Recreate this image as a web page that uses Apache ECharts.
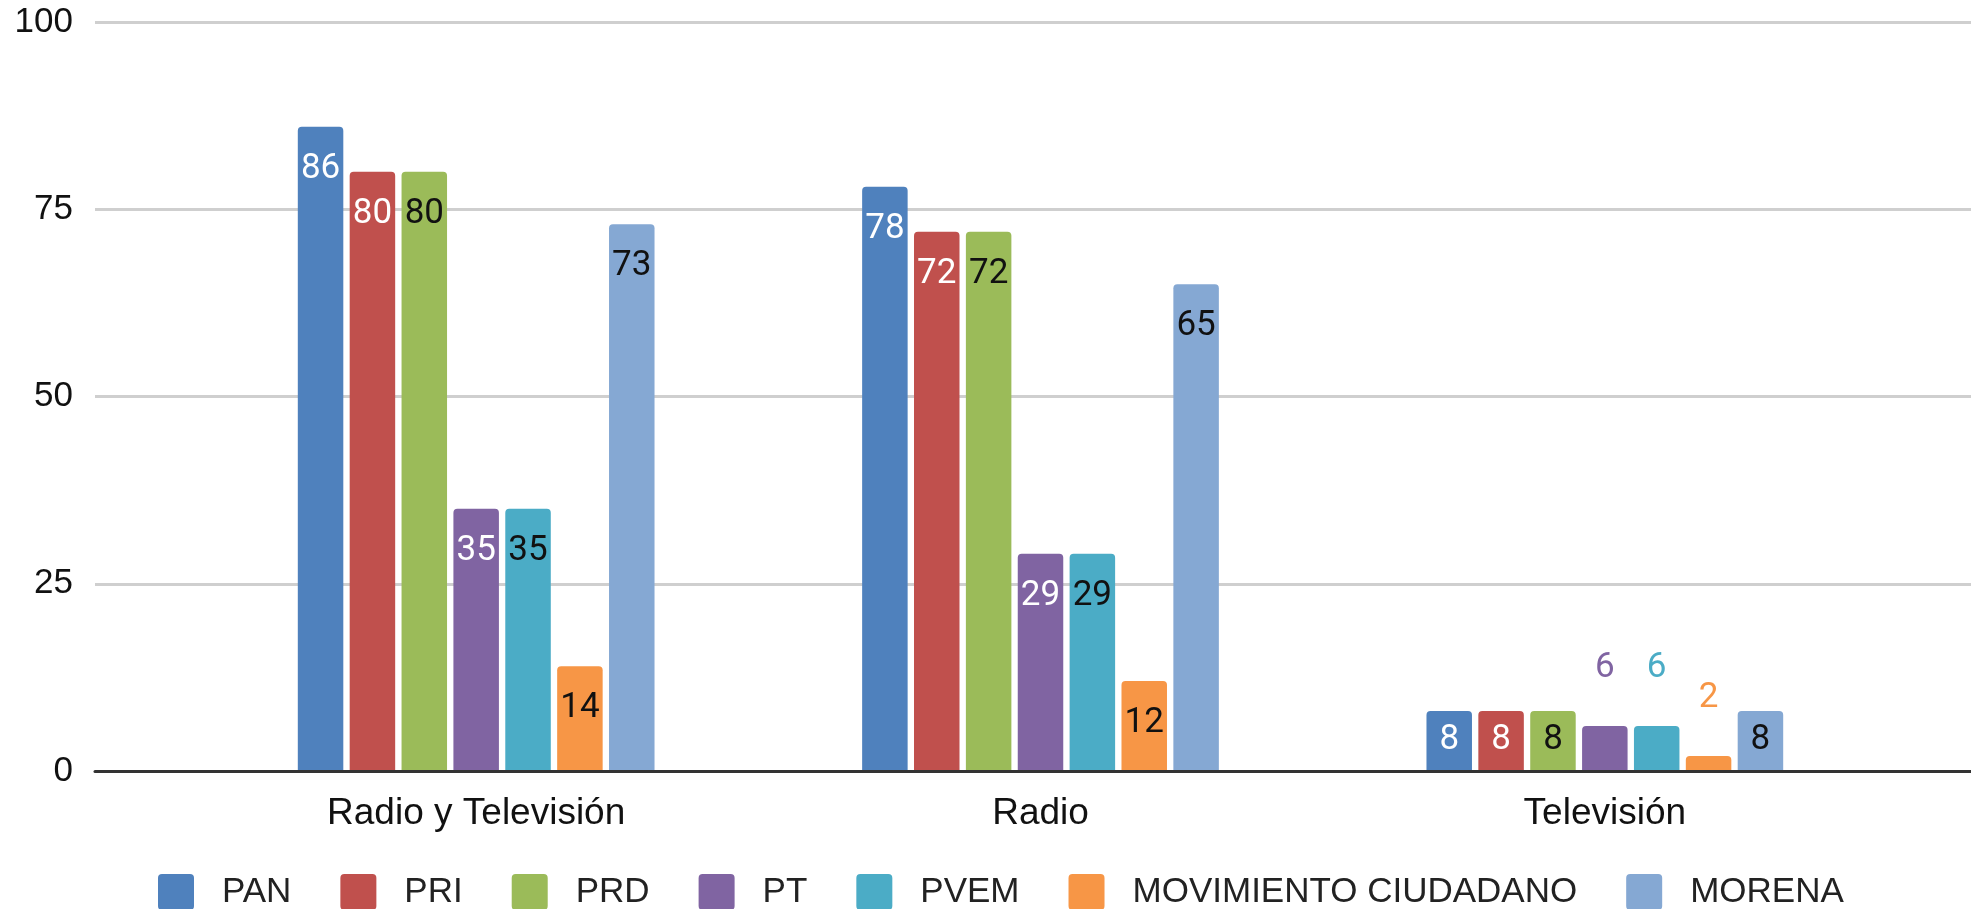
<!DOCTYPE html>
<html>
<head>
<meta charset="utf-8">
<script src="https://cdn.jsdelivr.net/npm/echarts@6/dist/echarts.min.js"></script>
<style>
html,body{margin:0;padding:0;background:#fff;}
#main{width:1971px;height:909px;}
</style>
</head>
<body>
<div id="main"></div>
<script>
var categories = ['Radio y Televisión', 'Radio', 'Televisión'];
var parties = ['PAN', 'PRI', 'PRD', 'PT', 'PVEM', 'MOVIMIENTO CIUDADANO', 'MORENA'];
var PAN = [86, 78, 8];
var PRI = [80, 72, 8];
var PRD = [80, 72, 8];
var PT = [35, 29, 6];
var PVEM = [35, 29, 6];
var MC = [14, 12, 2];
var MORENA = [73, 65, 8];
var yTicks = [0, 25, 50, 75, 100];

var values = [PAN, PRI, PRD, PT, PVEM, MC, MORENA];
var colors = ['#4f81bd', '#c0504d', '#9bbb59', '#8064a2', '#4bacc6', '#f79646', '#85a8d3'];
var labelColors = ['#fff', '#fff', '#111', '#fff', '#111', '#111', '#111'];

var axisFont = '"Liberation Sans", Arial, sans-serif';
var legendIcon = 'path://M4,0 h28 a4,4 0 0 1 4,4 v28 a4,4 0 0 1 -4,4 h-28 a4,4 0 0 1 -4,-4 v-28 a4,4 0 0 1 4,-4 z';

var series = [];
$each = function(arr, fn){ for(var i=0;i<arr.length;i++){ fn(i, arr[i]); } };
$each(parties, function(i, name){
	var data = [];
	$each(values[i], function(j, v){
		var label;
		if(v >= 10){
			label = {show:true, position:'insideTop', distance:25, color:labelColors[i]};
		}else if(v >= 8){
			label = {show:true, position:'insideBottom', distance:13, color:labelColors[i]};
		}else{
			label = {show:true, position:'top', distance:40, color:colors[i]};
		}
		data.push({value:v, label:label});
	});
	series.push({
		name:name,
		type:'bar',
		xAxisIndex:1,
		yAxisIndex:1,
		barWidth:45.5,
		barGap:'14%',
		itemStyle:{color:colors[i], borderRadius:[4,4,0,0]},
		label:{fontFamily:'Roboto', fontSize:35},
		data:data
	});
});

var myChart = echarts.init(document.getElementById('main'));
option = {
	animation:false,
	color:colors,
	legend:{
		data:parties,
		left:158,
		top:874,
		padding:0,
		itemWidth:36,
		itemHeight:36,
		itemGap:49,
		icon:legendIcon,
		textStyle:{fontFamily:axisFont, fontSize:35, color:'#222', padding:[0,0,0,23]}
	},
	grid:[
		{left:95, right:0, top:22, bottom:138},
		{left:194, right:84, top:22, bottom:138}
	],
	xAxis:[
		{
			gridIndex:0, type:'value', min:0, max:1, z:5,
			axisLine:{show:true, lineStyle:{color:'#333', width:3}},
			axisTick:{show:false}, axisLabel:{show:false}, splitLine:{show:false}
		},
		{
			gridIndex:1, type:'category', data:categories,
			axisLine:{show:false}, axisTick:{show:false},
			axisLabel:{fontFamily:axisFont, fontSize:37, color:'#111', margin:24}
		}
	],
	yAxis:[
		{
			gridIndex:0, type:'value', min:yTicks[0], max:yTicks[yTicks.length-1], interval:25,
			axisLine:{show:false}, axisTick:{show:false},
			axisLabel:{fontFamily:axisFont, fontSize:35, color:'#111', margin:22},
			splitLine:{lineStyle:{color:'#cfcfcf', width:3}}
		},
		{
			gridIndex:1, type:'value', min:0, max:100, show:false,
			splitLine:{show:false}
		}
	],
	series:series
};
myChart.setOption(option);
</script>
</body>
</html>
